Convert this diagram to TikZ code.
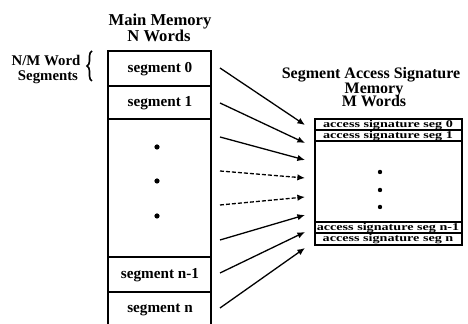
\documentclass[tikz,border=0pt]{standalone}
\usepackage{fontspec}
\setmainfont{Liberation Serif}
\usetikzlibrary{arrows.meta,decorations.pathreplacing}
\begin{document}
\begin{tikzpicture}[x=0.5pt,y=-0.5pt,
  boxline/.style={line width=1pt},
  head/.style={font=\fontsize{8.3}{8}\selectfont\bfseries, anchor=base, inner sep=0pt},
  side/.style={font=\fontsize{7.4}{8}\selectfont\bfseries, anchor=base, inner sep=0pt},
  seglab/.style={font=\fontsize{7.6}{8}\selectfont\bfseries, anchor=base, inner sep=0pt},
  siglab/.style={font=\fontsize{5.2}{5}\selectfont\bfseries, anchor=base, inner sep=0pt},
  arr/.style={line width=0.65pt, -{Latex[length=3.8pt,width=3.2pt]}},
  darr/.style={arr, dash pattern=on 2pt off 1pt},
  dot/.style={circle, fill, inner sep=0pt, minimum size=2.6pt}]
\useasboundingbox (0,0) rectangle (468,324);

% headings
\node[head] (mm1) at (160,26) {Main Memory};
\node[head] (mm2) at (159,42) {N Words};
\node[side] (nm1) at (46,66) {N/M Word};
\node[side] (nm2) at (48,81) {Segments};
\node[head, font=\fontsize{8}{8}\selectfont\bfseries] (sa1) at (371,79) {Segment Access Signature};
\node[head, font=\fontsize{8}{8}\selectfont\bfseries] (sa2) at (374,94) {Memory};
\node[head, font=\fontsize{8}{8}\selectfont\bfseries] (sa3) at (374,107) {M Words};

% brace grouping one segment
\draw[line width=0.8pt, decorate, decoration={brace, amplitude=2.5pt}] (92,81) -- (92,51);

% main memory column
\draw[boxline] (108,324) -- (108,51) -- (211,51) -- (211,324);
\foreach \y in {86,119,257,292} \draw[boxline] (108,\y) -- (211,\y);
\node[seglab] (m0) at (160,73) {segment 0};
\node[seglab] (m1) at (160,107) {segment 1};
\node[seglab] (mn1) at (160,279) {segment n-1};
\node[seglab] (mn) at (160,313) {segment n};
\node[dot] (md1) at (157,147) {};
\node[dot] (md2) at (157,181) {};
\node[dot] (md3) at (157,216) {};

% signature memory column
\draw[boxline] (315,119) rectangle (462,245);
\foreach \y in {130,141,222,233} \draw[boxline] (315,\y) -- (462,\y);
\node[siglab] (a0) at (388,127.5) {\scalebox{1.36}[1]{access signature seg 0}};
\node[siglab] (a1) at (388,138.5) {\scalebox{1.36}[1]{access signature seg 1}};
\node[siglab] (an1) at (388,230.5) {\scalebox{1.36}[1]{access signature seg n-1}};
\node[siglab] (an) at (388,242) {\scalebox{1.36}[1]{access signature seg n}};
\node[dot, minimum size=2.2pt] (ad1) at (380,172) {};
\node[dot, minimum size=2.2pt] (ad2) at (380,190) {};
\node[dot, minimum size=2.2pt] (ad3) at (380,207) {};

% connector ends
\coordinate (s1) at (220,68);  \coordinate (t1) at (305,125);
\coordinate (s2) at (220,103); \coordinate (t2) at (305,143);
\coordinate (s3) at (220,137); \coordinate (t3) at (305,160);
\coordinate (s4) at (220,171); \coordinate (t4) at (305,178);
\coordinate (s5) at (220,205); \coordinate (t5) at (305,197);
\coordinate (s6) at (220,240); \coordinate (t6) at (305,215);
\coordinate (s7) at (220,273); \coordinate (t7) at (305,232);
\coordinate (s8) at (220,308); \coordinate (t8) at (305,248);

\draw[arr] (s1) -- (t1);
\draw[arr] (s2) -- (t2);
\draw[arr] (s3) -- (t3);
\draw[darr] (s4) -- (t4);
\draw[darr] (s5) -- (t5);
\draw[arr] (s6) -- (t6);
\draw[arr] (s7) -- (t7);
\draw[arr] (s8) -- (t8);
\end{tikzpicture}
\end{document}
